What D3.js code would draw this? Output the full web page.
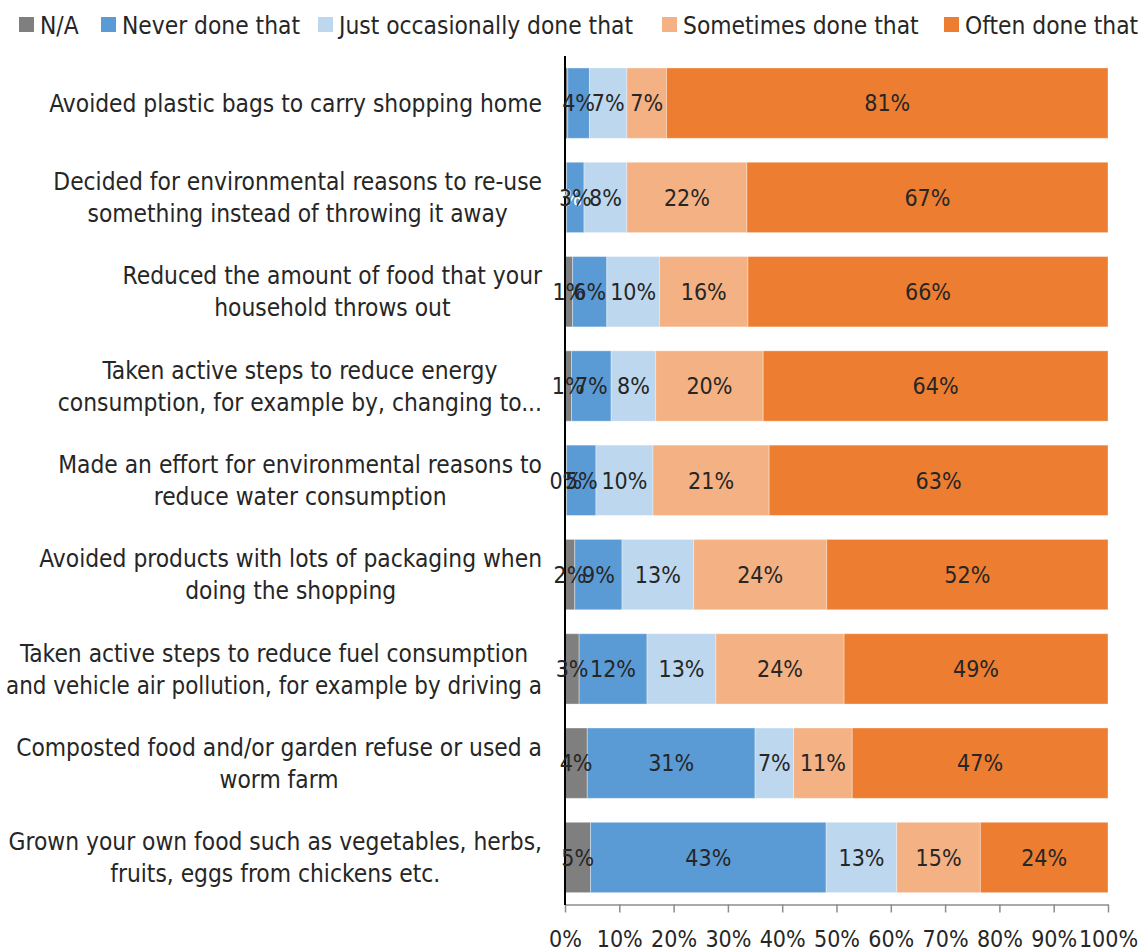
<!DOCTYPE html>
<html><head><meta charset="utf-8">
<script src="https://cdn.jsdelivr.net/npm/d3@7/dist/d3.min.js"></script>
<style>
html,body{margin:0;padding:0;background:#fff;}
svg{display:block;}
text{font-family:"DejaVu Sans Condensed","Liberation Sans Narrow","Roboto","Noto Sans",sans-serif;fill:#262626;}
</style></head>
<body>
<svg id="chart" width="1143" height="951"></svg>
<script>
const categories = [
  ["Avoided plastic bags to carry shopping home"],
  ["Decided for environmental reasons to re-use", "something instead of throwing it away"],
  ["Reduced the amount of food that your", "household throws out"],
  ["Taken active steps to reduce energy", "consumption, for example by, changing to..."],
  ["Made an effort for environmental reasons to", "reduce water consumption"],
  ["Avoided products with lots of packaging when", "doing the shopping"],
  ["Taken active steps to reduce fuel consumption", "and vehicle air pollution, for example by driving a"],
  ["Composted food and/or garden refuse or used a", "worm farm"],
  ["Grown your own food such as vegetables, herbs,", "fruits, eggs from chickens etc."]
];
const seriesNames = ["N/A", "Never done that", "Just occasionally done that", "Sometimes done that", "Often done that"];
const seriesColors = ["#7f7f7f", "#5b9bd5", "#bdd7ee", "#f4b183", "#ed7d31"];

const naValues           = [0.5, 0.3, 1.4, 1.2, 0.3, 1.8, 2.6, 4.1, 4.7];
const neverValues        = [4.0, 3.2, 6.3, 7.3, 5.4, 8.7, 12.5, 30.9, 43.4];
const occasionallyValues = [6.9, 7.9, 9.7, 8.2, 10.5, 13.2, 12.7, 7.1, 13.0];
const sometimesValues    = [7.3, 22.1, 16.3, 19.8, 21.4, 24.5, 23.6, 10.8, 15.4];
const oftenValues        = [81.3, 66.5, 66.3, 63.5, 62.4, 51.8, 48.6, 47.1, 23.5];

const naLabels           = ["", "0%", "1%", "1%", "0%", "2%", "3%", "4%", "5%"];
const neverLabels        = ["4%", "3%", "6%", "7%", "5%", "9%", "12%", "31%", "43%"];
const occasionallyLabels = ["7%", "8%", "10%", "8%", "10%", "13%", "13%", "7%", "13%"];
const sometimesLabels    = ["7%", "22%", "16%", "20%", "21%", "24%", "24%", "11%", "15%"];
const oftenLabels        = ["81%", "67%", "66%", "64%", "63%", "52%", "49%", "47%", "24%"];

const tickValues = [0, 10, 20, 30, 40, 50, 60, 70, 80, 90, 100];

const seriesValues = [naValues, neverValues, occasionallyValues, sometimesValues, oftenValues];
const seriesLabels = [naLabels, neverLabels, occasionallyLabels, sometimesLabels, oftenLabels];

const svg = d3.select("#chart");
const x = d3.scaleLinear().domain([0, 100]).range([565, 1108]);
const y = d3.scaleBand().domain(d3.range(categories.length)).range([56, 904.6]).paddingInner(0.254).paddingOuter(0.127);

// stacked data
const rows = categories.map((c, i) => {
  let acc = 0;
  return seriesValues.map((vals, s) => {
    const d = {row: i, s, x0: acc, x1: acc + vals[i], label: seriesLabels[s][i]};
    acc += vals[i];
    return d;
  });
});
const segs = rows.flat();

svg.append("g").selectAll("rect").data(segs).join("rect")
  .attr("x", d => x(d.x0))
  .attr("width", d => Math.max(0, x(d.x1) - x(d.x0)))
  .attr("y", d => y(d.row))
  .attr("height", y.bandwidth())
  .attr("fill", d => seriesColors[d.s])
  .attr("stroke", "#ffffff").attr("stroke-opacity", 0.35).attr("stroke-width", 1);

// axis
const xAxis = d3.axisBottom(x).tickValues(tickValues).tickFormat(d => d + "%").tickSize(8).tickSizeOuter(0);
const ax = svg.append("g").attr("transform", "translate(0,904.5)").call(xAxis);
ax.select(".domain").attr("stroke", "#8c8c8c").attr("stroke-width", 1.5);
ax.selectAll(".tick line").attr("stroke", "#8c8c8c").attr("stroke-width", 1.5);
ax.selectAll(".tick text").attr("font-size", 23).attr("dy", 0).attr("y", 42).attr("fill", "#262626")
  .style("font-family", null);

// vertical axis line
svg.append("line").attr("x1", 565).attr("x2", 565).attr("y1", 56).attr("y2", 905)
  .attr("stroke", "#000").attr("stroke-width", 2);

// data labels
svg.append("g").selectAll("text").data(segs.filter(d => d.label)).join("text")
  .attr("x", d => (x(d.x0) + x(d.x1)) / 2)
  .attr("y", d => y(d.row) + y.bandwidth() / 2)
  .attr("dy", "0.36em")
  .attr("text-anchor", "middle")
  .attr("font-size", 23)
  .style("fill", d => (d.s === 0 && d.row === 1) ? "#ffffff" : "#262626")
  .text(d => d.label);

// category labels: block right aligned, lines centered
const labelRight = 542;
const maxLine = 536;
const lineH = 32;
const catG = svg.append("g");
categories.forEach((lines, i) => {
  const cy = y(i) + y.bandwidth() / 2;
  const temp = lines.map(t => catG.append("text").attr("font-size", 24.3).text(t));
  const widths = temp.map(t => Math.min(maxLine, t.node().getComputedTextLength()));
  temp.forEach((t, k) => {
    if (t.node().getComputedTextLength() > maxLine) {
      t.attr("textLength", maxLine).attr("lengthAdjust", "spacingAndGlyphs");
    }
  });
  const bw = d3.max(widths);
  const cx = labelRight - bw / 2;
  temp.forEach((t, k) => {
    t.attr("x", cx).attr("text-anchor", "middle")
     .attr("y", cy + (k - (lines.length - 1) / 2) * lineH)
     .attr("dy", "0.36em");
  });
});

// legend
const legendX = [19, 101, 318, 662, 944];
const lg = svg.append("g");
seriesNames.forEach((n, i) => {
  lg.append("rect").attr("x", legendX[i]).attr("y", 17).attr("width", 15).attr("height", 15).attr("fill", seriesColors[i]);
  lg.append("text").attr("x", legendX[i] + 21).attr("y", 25).attr("dy", "0.36em").attr("font-size", 24.3).text(n);
});
</script>
</body></html>
